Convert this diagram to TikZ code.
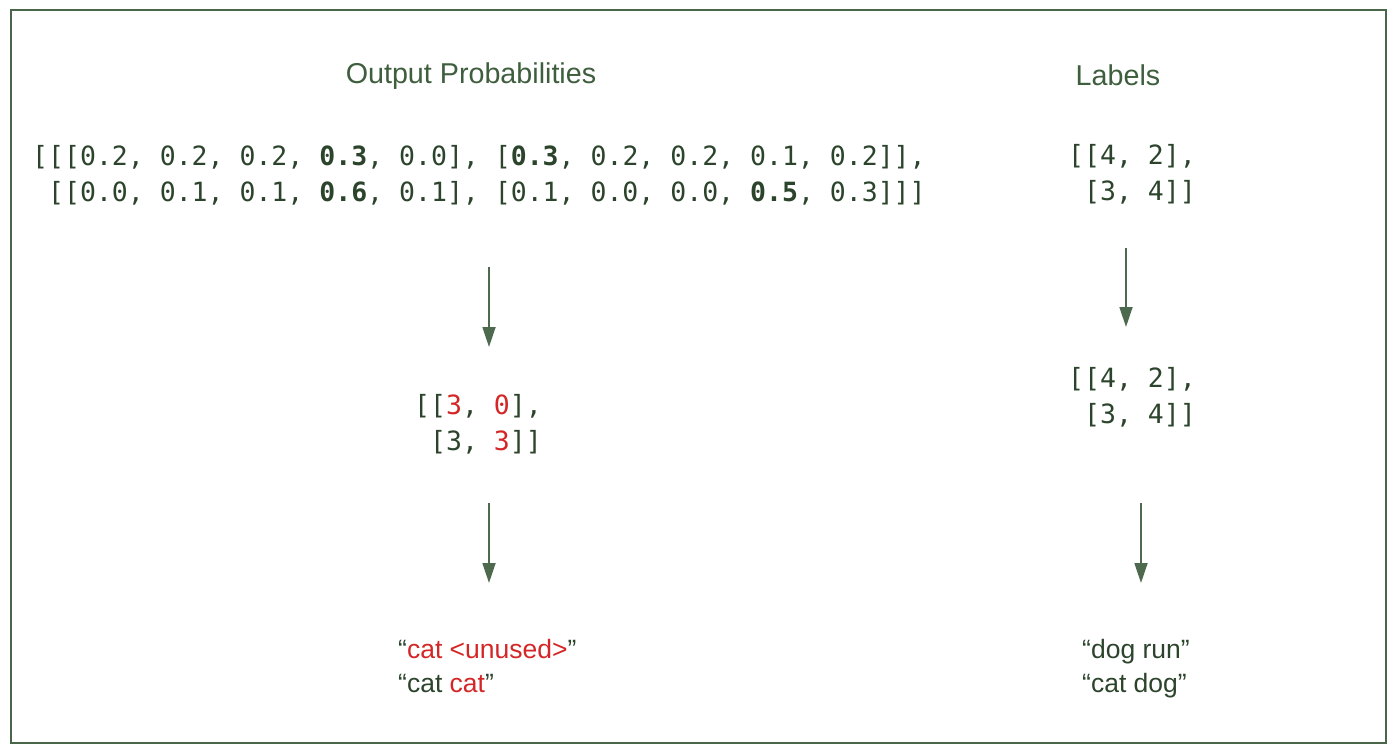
\documentclass[tikz,border=0pt]{standalone}
\usepackage{fontspec}
\setmainfont{Liberation Sans}
\setmonofont{DejaVu Sans Mono}
\usetikzlibrary{arrows.meta}
\definecolor{titlegreen}{HTML}{3E5E3E}
\definecolor{codegreen}{HTML}{2C442C}
\definecolor{hired}{HTML}{D42626}
\definecolor{framegreen}{HTML}{4A664A}
\definecolor{arrowgreen}{HTML}{4E6A4E}
\tikzset{
  title/.style={font=\fontsize{28.7}{34}\selectfont, text=titlegreen, inner sep=0pt},
  code/.style={font=\fontsize{26.5}{36}\ttfamily, text=codegreen, align=left, anchor=west, inner sep=0pt},
  words/.style={font=\fontsize{26.5}{34}\selectfont, text=codegreen, align=left, anchor=west, inner sep=0pt},
  flow/.style={draw=arrowgreen, line width=1.8pt, -{Triangle[width=13pt,length=20pt]}}
}
\newcommand{\hb}[1]{\textbf{#1}}
\newcommand{\hr}[1]{\textcolor{hired}{#1}}
\begin{document}
\begin{tikzpicture}[x=1pt,y=-1pt]
  \useasboundingbox (0,0) rectangle (1400,754);
  \draw[framegreen, line width=2pt] (11,10) rectangle (1386,743);
  % headings
  \node[title] (probtitle) at (471,76) {Output Probabilities};
  \node[title] (labtitle) at (1118,75) {Labels};
  % left column
  \node[code] (probs) at (32,175) {[[[0.2, 0.2, 0.2, \hb{0.3}, 0.0], [\hb{0.3}, 0.2, 0.2, 0.1, 0.2]],\\
    \ [[0.0, 0.1, 0.1, \hb{0.6}, 0.1], [0.1, 0.0, 0.0, \hb{0.5}, 0.3]]]};
  \node[code] (argmax) at (414,424) {[[\hr{3}, \hr{0}],\\ \ [3, \hr{3}]]};
  \node[words] (predtxt) at (398,666) {\textquotedblleft\hr{cat <unused>}\textquotedblright\\
    \textquotedblleft cat \hr{cat}\textquotedblright};
  % right column
  \node[code] (labs) at (1068,174) {[[4, 2],\\ \ [3, 4]]};
  \node[code] (labscopy) at (1068,397) {[[4, 2],\\ \ [3, 4]]};
  \node[words] (labtxt) at (1082,669) {\textquotedblleft dog run\textquotedblright\\
    \textquotedblleft cat dog\textquotedblright};
  % arrows
  \coordinate (l1a) at (489,267); \coordinate (l1b) at (489,347);
  \coordinate (l2a) at (489,503); \coordinate (l2b) at (489,583);
  \coordinate (r1a) at (1126,248); \coordinate (r1b) at (1126,327);
  \coordinate (r2a) at (1141,503); \coordinate (r2b) at (1141,583);
  \draw[flow] (l1a) -- (l1b);
  \draw[flow] (l2a) -- (l2b);
  \draw[flow] (r1a) -- (r1b);
  \draw[flow] (r2a) -- (r2b);
\end{tikzpicture}
\end{document}
